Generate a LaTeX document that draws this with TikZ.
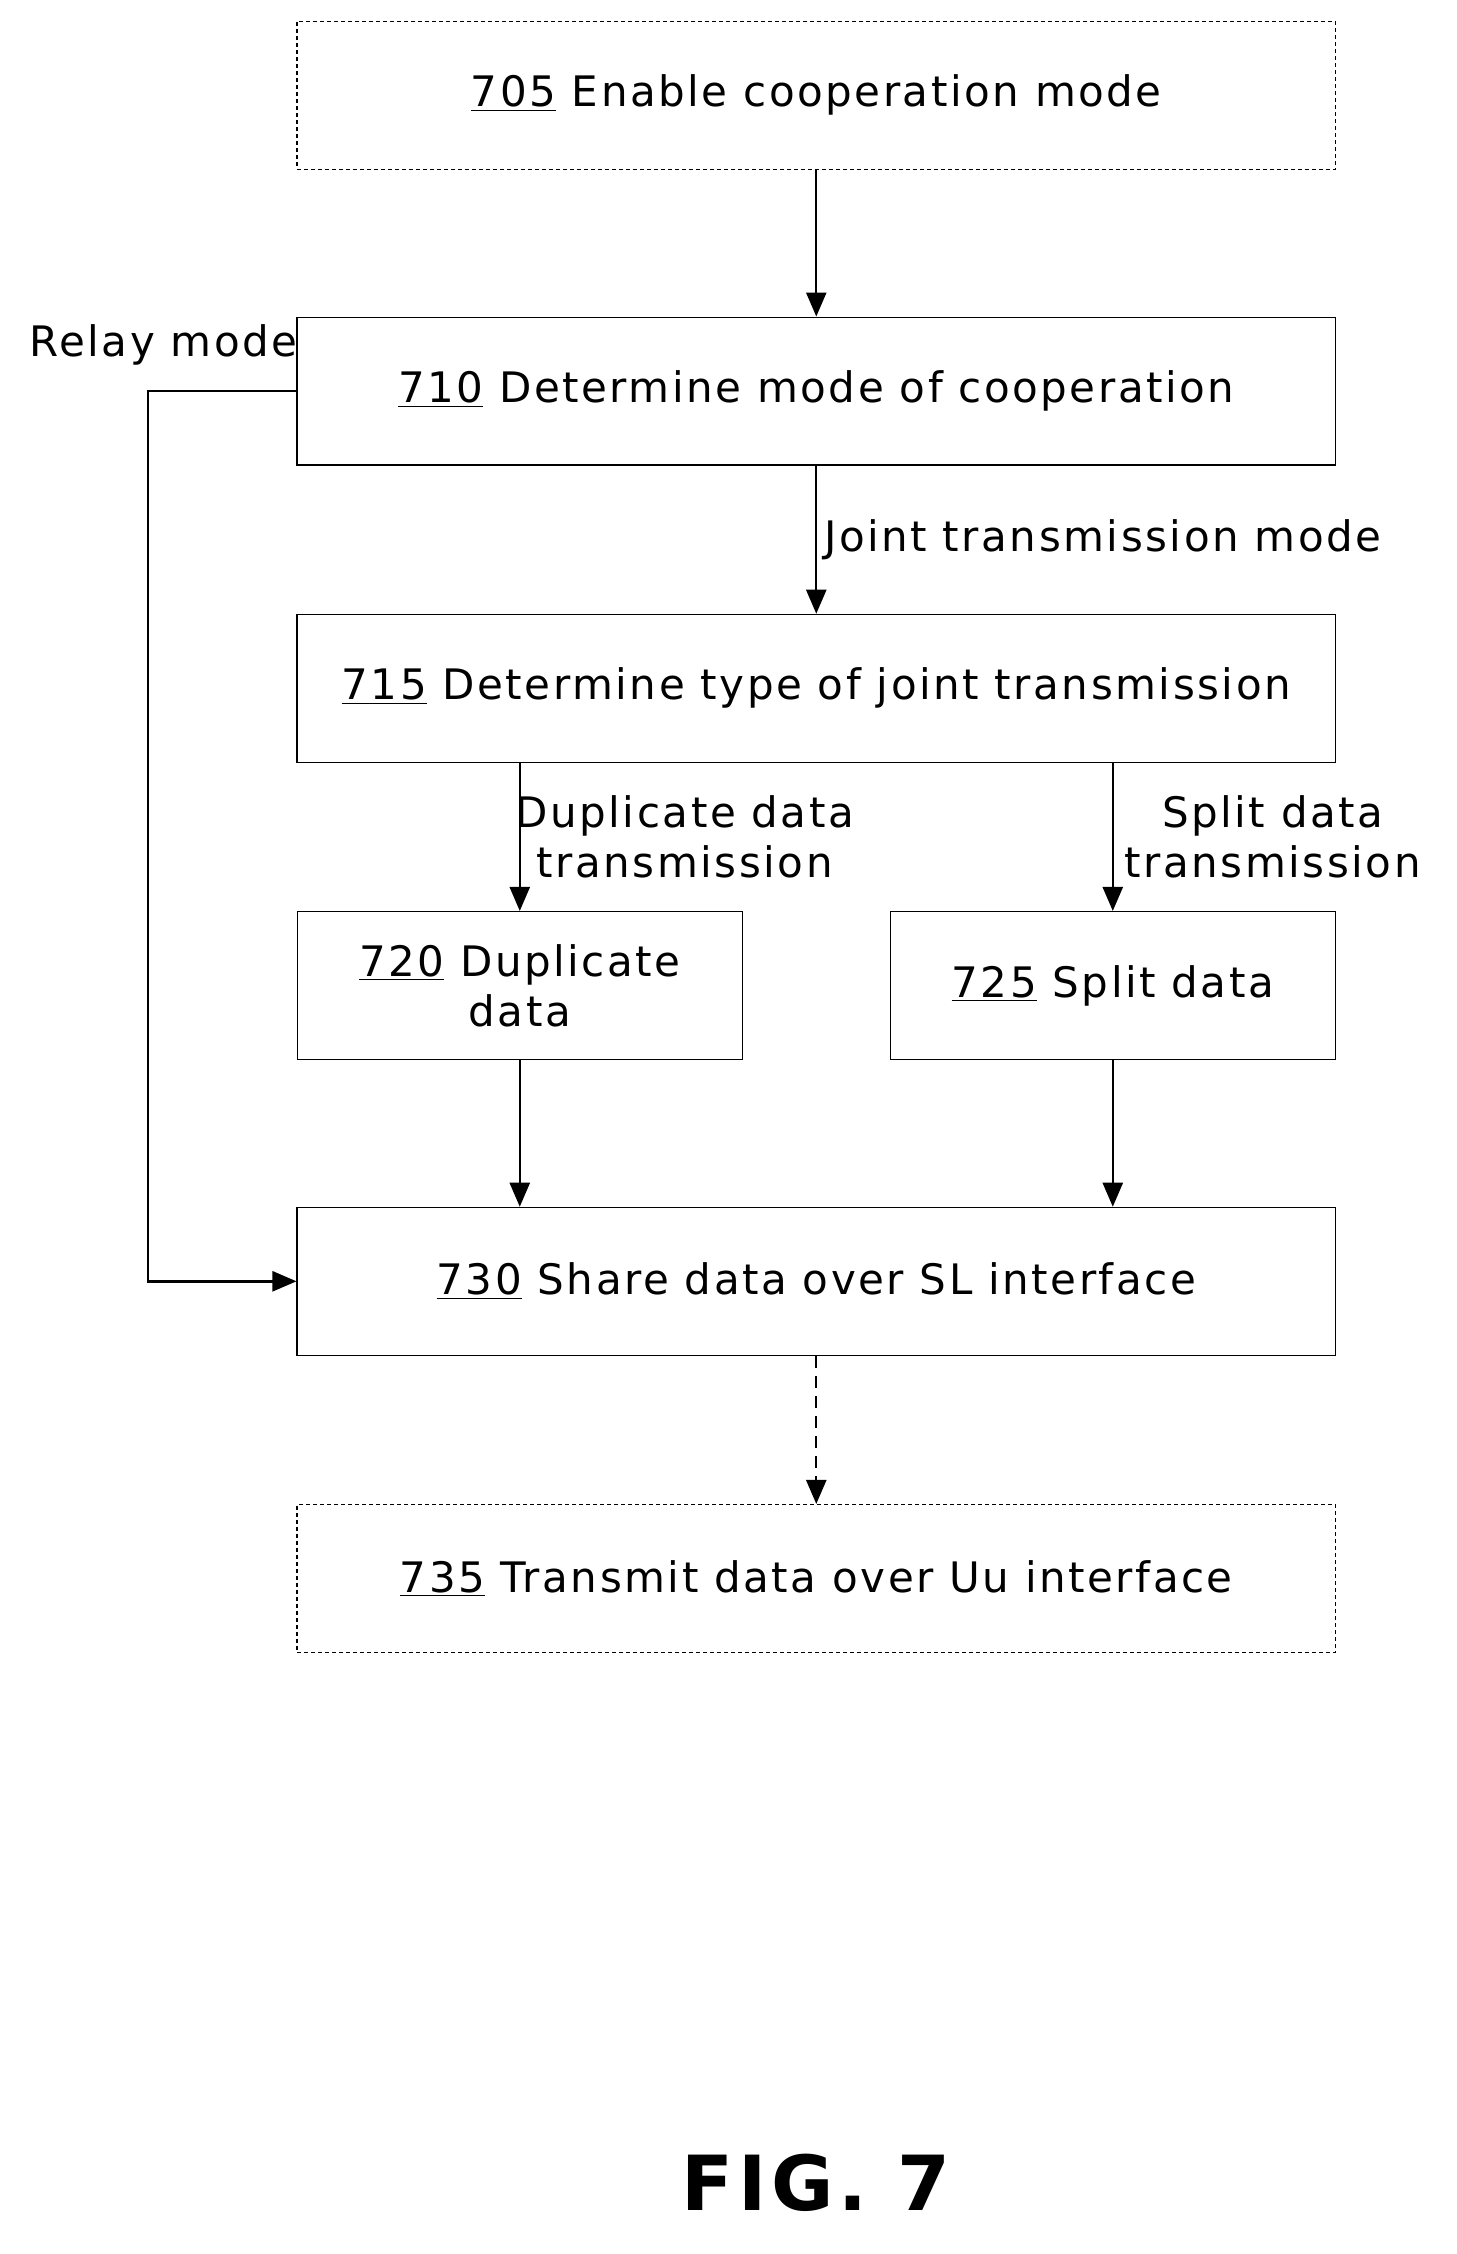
\documentclass[tikz,border=0pt]{standalone}
\usepackage{fontspec}
\setmainfont{DejaVu Sans}[LetterSpace=6]
\usetikzlibrary{arrows.meta, positioning}
\begin{document}
\begin{tikzpicture}[x=0.025cm, y=-0.025cm,
  box/.style={draw, line width=0.6pt, minimum width=18.25cm, minimum height=2.6cm, font=\fontsize{21}{25}\selectfont},
  half/.style={box, minimum width=7.825cm, align=center},
  opt/.style={box, dash pattern=on 2pt off 1.5pt},
  lbl/.style={font=\fontsize{21}{25}\selectfont, align=center},
  arr/.style={line width=1.2pt, -{Triangle[length=12pt, width=10pt]}}]
\useasboundingbox (0,0) rectangle (1024,1585);
% Boxes
\node[opt]  (s705) at (574,67)   {\underline{705} Enable cooperation mode};
\node[box]  (s710) at (574,275)  {\underline{710} Determine mode of cooperation};
\node[box]  (s715) at (574,484)  {\underline{715} Determine type of joint transmission};
\node[half] (s720) at (365.5,693) {\underline{720} Duplicate\\data};
\node[half] (s725) at (782.5,693) {\underline{725} Split data};
\node[box]  (s730) at (574,901)  {\underline{730} Share data over SL interface};
\node[opt]  (s735) at (574,1110) {\underline{735} Transmit data over Uu interface};
% Arrows
\draw[arr] (s705) -- (s710);
\draw[arr] (s710) -- node[lbl, right] {Joint transmission mode} (s715);
\draw[arr] (s715.south -| s720) -- node[lbl, right, xshift=-6pt] {Duplicate data\\transmission} (s720);
\draw[arr] (s715.south -| s725) -- node[lbl, right, xshift=2pt] {Split data\\transmission} (s725);
\draw[arr] (s720) -- (s730.north -| s720);
\draw[arr] (s725) -- (s730.north -| s725);
\draw[arr, dash pattern=on 6pt off 4pt] (s730) -- (s735);
\coordinate (relay) at (104,275);
\draw[arr] (s710.west) -- (relay) |- (s730.west);
\node[lbl, above left, xshift=4pt] (rlbl) at (s710.north west |- 0,262) {Relay mode};
% Caption
\node[font=\fontsize{38}{44}\selectfont\bfseries] (fig) at (574,1535) {FIG. 7};
\end{tikzpicture}
\end{document}
